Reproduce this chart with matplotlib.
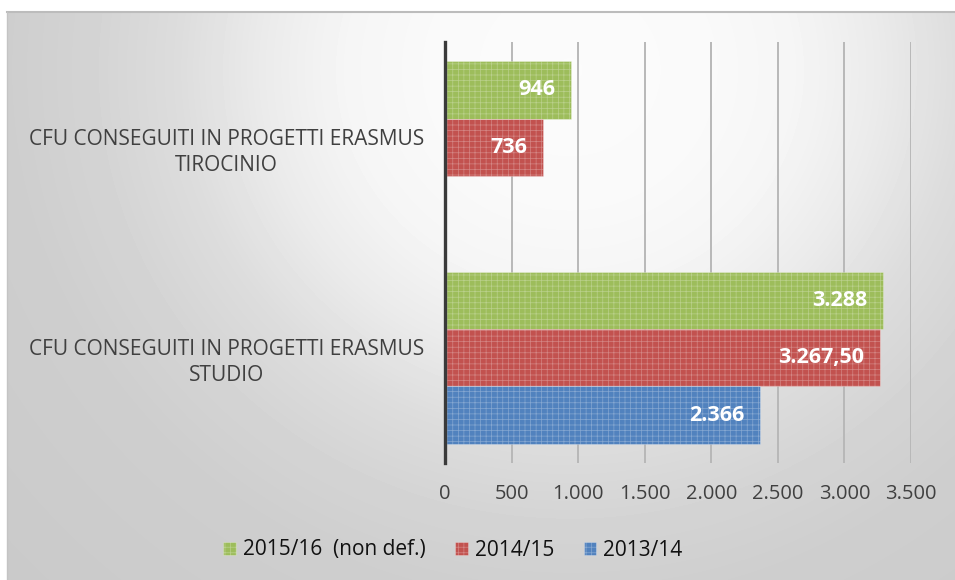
import numpy as np
import matplotlib
matplotlib.use("Agg")
import matplotlib.pyplot as plt
from matplotlib.patches import Patch
from matplotlib.lines import Line2D

plt.rcParams['font.family'] = ['Open Sans', 'DejaVu Sans']
plt.rcParams['hatch.linewidth'] = 0.5

# data
categories = ['CFU CONSEGUITI IN PROGETTI ERASMUS\nSTUDIO',
              'CFU CONSEGUITI IN PROGETTI ERASMUS\nTIROCINIO']
series = ['2015/16  (non def.)', '2014/15', '2013/14']
v_2015 = [3288, 946]
v_2014 = [3267.5, 736]
v_2013 = [2366, np.nan]
colors = ['#9dbd5b', '#c2524f', '#5182be']
x_ticks = [0, 500, 1000, 1500, 2000, 2500, 3000, 3500]


def fmt_it(v):
    # italian number format: 3.288 / 3.267,50
    if float(v).is_integer():
        return f"{int(v):,}".replace(",", ".")
    s = f"{v:,.2f}"
    return s.replace(",", "X").replace(".", ",").replace("X", ".")


W, H = 955, 580
fig = plt.figure(figsize=(W / 100, H / 100), dpi=100)

# background gradient frame
x0, y0 = 7, 12
xs = np.arange(x0, W) + 0.5
ys = np.arange(y0, H) + 0.5
XX, YY = np.meshgrid(xs, ys)
d = np.sqrt((XX - 570) ** 2 + ((YY - 70) * 1.05) ** 2) / 560
v = np.interp(d, [0, 0.25, 0.4, 0.55, 0.7, 0.85, 1.0, 1.4],
              [0.985, 0.978, 0.962, 0.92, 0.865, 0.83, 0.808, 0.79])
bg = fig.add_axes([x0 / W, 0, 1 - x0 / W, 1 - y0 / H])
bg.imshow(v, cmap='gray', vmin=0, vmax=1, aspect='auto', interpolation='bilinear')
bg.axis('off')
fig.add_artist(Line2D([x0 / W, 1], [1 - y0 / H, 1 - y0 / H], color='#bcbcbc', lw=1.5))
fig.add_artist(Line2D([x0 / W, x0 / W], [0, 1 - y0 / H], color='#c4c4c4', lw=1.0))

# main axes
ax = fig.add_axes([445 / W, (H - 463) / H, 466 / W, 421 / H])
ax.set_facecolor('none')
y = np.arange(len(categories))
h = 0.273
all_vals = [v_2015, v_2014, v_2013]
offsets = [h, 0, -h]
for vals, off, c, name in zip(all_vals, offsets, colors, series):
    bars = ax.barh(y + off, vals, height=h, color=c, edgecolor=(1, 1, 1, 0.3),
                   linewidth=0.6, hatch='+++', label=name, zorder=3)
    for b, val in zip(bars, vals):
        if np.isnan(val):
            continue
        ax.text(b.get_width() - 118, b.get_y() + b.get_height() / 2, fmt_it(val),
                ha='right', va='center', color='white', fontsize=15.5,
                fontweight='bold', zorder=4)

ax.set_xlim(0, 3500)
ax.set_ylim(-0.5, 1.5)
ax.set_xticks(x_ticks)
ax.set_xticklabels([fmt_it(t) for t in x_ticks], fontsize=14.5, color='#404040')
ax.set_yticks(y)
ax.set_yticklabels(categories, fontsize=15, color='#404040', linespacing=1.3)
for lab in ax.get_yticklabels():
    lab.set_multialignment('center')
ax.tick_params(axis='x', length=0, pad=15)
ax.tick_params(axis='y', length=0, pad=15)
ax.grid(axis='x', color='#b8b8b8', lw=1.4, zorder=1)
for s in ['top', 'right', 'bottom']:
    ax.spines[s].set_visible(False)
ax.spines['left'].set_color('#3a3a3a')
ax.spines['left'].set_linewidth(2.4)
ax.spines['left'].set_zorder(5)

handles = [Patch(facecolor=c, edgecolor=(1, 1, 1, 0.3), hatch='+++', lw=0.6)
           for c in colors]
fig.legend(handles, series, loc='center', bbox_to_anchor=(453 / W, 1 - 550 / H),
           ncol=3, frameon=False, fontsize=15, handlelength=0.6, handleheight=0.6,
           handletextpad=0.35, columnspacing=1.4, labelcolor='#111111')

fig.savefig('out.png', dpi=100)
